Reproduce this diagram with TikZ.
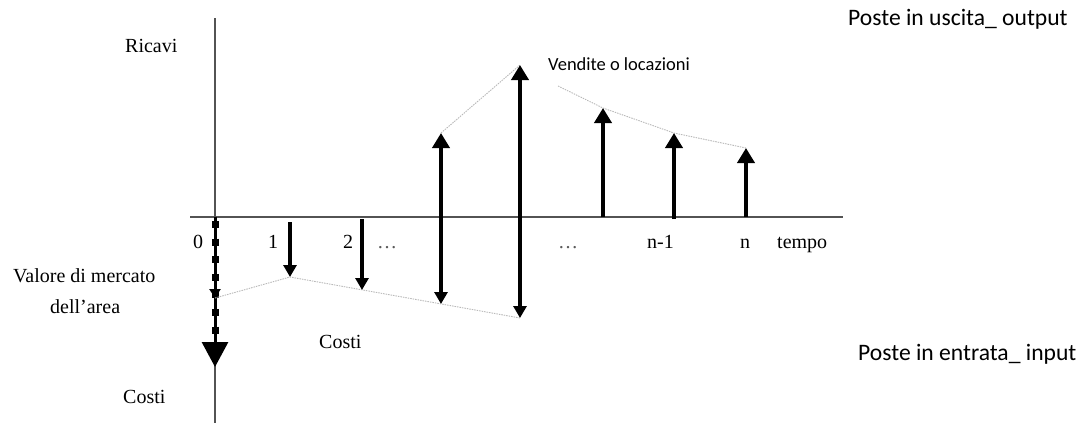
\documentclass[tikz,border=0pt]{standalone}
\usepackage{fontspec}
\setmainfont{Liberation Serif}
\newfontfamily\calib{Carlito}
\usetikzlibrary{arrows.meta}
\begin{document}
\begin{tikzpicture}[x=1pt,y=-1pt,
  lbl/.style={anchor=base west,inner sep=0pt,font=\fontsize{20}{24}\selectfont},
  clbl/.style={anchor=base west,inner sep=0pt},
  axisline/.style={line width=1.5pt,draw=gray!65!black},
  uparrow/.style={line width=4.5pt,-{Triangle[width=17pt,length=15pt]}},
  downarrow/.style={line width=4pt,-{Triangle[width=13pt,length=12pt]}},
  guide/.style={line width=0.9pt,draw=gray!55,dash pattern=on 1.5pt off 1pt}]
\useasboundingbox (0,0) rectangle (1085,423);
% axes
\coordinate (vtop) at (215,18);
\coordinate (vbot) at (215,423);
\coordinate (hl) at (190,217);
\coordinate (hr) at (843,217);
\draw[axisline] (vtop) -- (vbot);
\draw[axisline] (hl) -- (hr);
% base points and tips
\coordinate (b0) at (215,217);
\coordinate (t0) at (215,367);
\coordinate (b1) at (290,222);
\coordinate (t1) at (290,277);
\coordinate (b2) at (362,219);
\coordinate (t2) at (362,290);
\coordinate (b3) at (441,217);
\coordinate (t3d) at (441,304);
\coordinate (t3u) at (441,133);
\coordinate (b4) at (520,217);
\coordinate (t4d) at (520,318);
\coordinate (t4u) at (520,65);
\coordinate (b5) at (603,217);
\coordinate (t5u) at (603,108);
\coordinate (b6) at (674,219);
\coordinate (t6u) at (674,133);
\coordinate (b7) at (746,217);
\coordinate (t7u) at (746,148);
\coordinate (vm) at (215,298);
\coordinate (vms) at (215,284);
\coordinate (g0) at (558,86);
% market value dashed arrow
\draw[line width=3pt,-{Triangle[width=26pt,length=25pt]}] (b0) -- (t0);
\draw[line width=7pt,dash pattern=on 7pt off 10.6pt] (215,221) -- (215,336);
\draw[line width=3pt,-{Triangle[width=11pt,length=9pt]}] (vms) -- (vm);
% guide lines
\draw[guide] (vm) -- (t1) -- (t4d);
\draw[guide] (t3u) -- (t4u);
\draw[guide] (g0) -- (t5u) -- (t6u) -- (t7u);
% cost arrows
\draw[downarrow] (b1) -- (t1);
\draw[downarrow] (b2) -- (t2);
\draw[downarrow] (b3) -- (t3d);
\draw[downarrow] (b4) -- (t4d);
% revenue arrows
\draw[uparrow] (b3) -- (t3u);
\draw[uparrow] (b4) -- (t4u);
\draw[uparrow] (b5) -- (t5u);
\draw[uparrow] (b6) -- (t6u);
\draw[uparrow] (b7) -- (t7u);
% labels
\node[lbl] (ricavi) at (125,52) {Ricavi};
\node[lbl] (l0) at (193,248) {0};
\node[lbl] (l1) at (268,248) {1};
\node[lbl] (l2) at (343,248) {2};
\node[lbl,text=gray!70!black] (d1) at (377,248) {…};
\node[lbl,text=gray!70!black] (d2) at (558,248) {…};
\node[lbl] (ln1) at (647,248) {n-1};
\node[lbl] (ln) at (740,248) {n};
\node[lbl] (tempo) at (777,248) {tempo};
\node[lbl] (valore) at (13,282) {Valore di mercato};
\node[lbl] (area) at (50,313) {dell’area};
\node[lbl] (costi1) at (319,348) {Costi};
\node[lbl] (costi2) at (123,403) {Costi};
\node[clbl,font=\calib\fontsize{18.5}{22}\selectfont] (vendite) at (548,70) {Vendite o locazioni};
\node[clbl,font=\calib\fontsize{23.6}{28}\selectfont] (uscita) at (848,25) {Poste in uscita\_ output};
\node[clbl,font=\calib\fontsize{23.6}{28}\selectfont] (entrata) at (858,360) {Poste in entrata\_ input};
\end{tikzpicture}
\end{document}
